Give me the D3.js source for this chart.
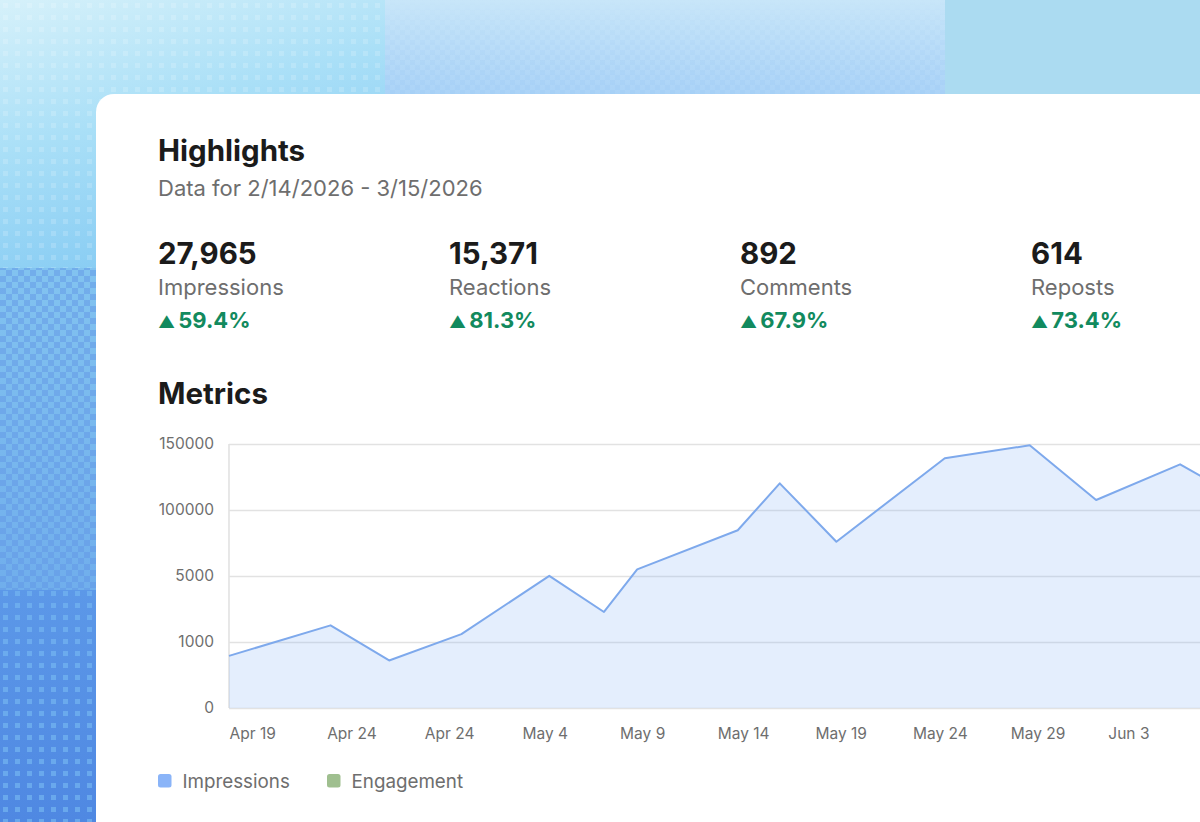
<!DOCTYPE html>
<html>
<head>
<meta charset="utf-8">
<script src="https://cdn.jsdelivr.net/npm/d3@7"></script>
<style>
  html, body { margin: 0; padding: 0; overflow: hidden; background: #fff; }
  svg { display: block; font-family: Inter, "Noto Sans", sans-serif; }
</style>
</head>
<body>
<div class="chart"></div>
<script>
// highlight numbers
const kpiValues = ["27,965", "15,371", "892", "614"]
const kpiLabels = ["Impressions", "Reactions", "Comments", "Reposts"]
const kpiChanges = ["59.4%", "81.3%", "67.9%", "73.4%"]

// metrics series (day offset from Apr 19, impressions)
const days = [0, 5.2, 8.2, 11.9, 16.4, 19.2, 20.9, 26.05, 28.2, 31.1, 36.65, 41.0, 44.4, 48.7, 51.9]
const impressions = [790, 2010, 720, 1480, 5200, 2820, 14600, 70800, 120200, 54400, 139200, 149000, 107600, 134600, 107600]

const xLabels = ["Apr 19", "Apr 24", "Apr 24", "May 4", "May 9", "May 14", "May 19", "May 24", "May 29", "Jun 3"]
const yTicks = [0, 1000, 5000, 100000, 150000]

const legendNames = ["Impressions", "Engagement"]
const legendColors = ["#8ab4f8", "#9fbf8f"]

const W = 1200, H = 822

const svg = d3.select(".chart").append("svg")
    .attr("width", W)
    .attr("height", H)

const defs = svg.append("defs")

function grad(id, stops, x2, y2) {
    const g = defs.append("linearGradient").attr("id", id)
        .attr("x1", 0).attr("y1", 0).attr("x2", x2).attr("y2", y2)
    stops.forEach(s => g.append("stop").attr("offset", s[0]).attr("stop-color", s[1]))
    return g
}
grad("gTopLeft", [[0, "#d6f1fa"], [0.5, "#a9dff7"], [1, "#86cbf3"]], 0.4, 1)
grad("gTopMid", [[0, "#c8e6f9"], [1, "#abd3f7"]], 0, 1)
grad("gMid", [[0, "#82c3f0"], [1, "#70aeec"]], 0, 1)
grad("gLow", [[0, "#5c98e8"], [1, "#4f88e2"]], 0, 1)
grad("gFade", [[0, "#000"], [1, "#fff"]], 0, 1)

defs.append("mask").attr("id", "mFade")
    .attr("maskContentUnits", "userSpaceOnUse")
  .append("rect")
    .attr("x", 385).attr("y", 0).attr("width", 580).attr("height", 94)
    .attr("fill", "url(#gFade)")

// dot pattern
const dots = defs.append("pattern").attr("id", "pDots")
    .attr("width", 12).attr("height", 12).attr("patternUnits", "userSpaceOnUse")
dots.append("rect").attr("x", 3).attr("y", 3).attr("width", 5).attr("height", 5)
    .attr("fill", "#ffffff").attr("opacity", 0.16)

const dotsLow = defs.append("pattern").attr("id", "pDotsLow")
    .attr("width", 12).attr("height", 12).attr("patternUnits", "userSpaceOnUse")
dotsLow.append("rect").attr("x", 3).attr("y", 3).attr("width", 5).attr("height", 5)
    .attr("fill", "#74b6f2").attr("opacity", 0.7)

// checker pattern
const checker = defs.append("pattern").attr("id", "pCheck")
    .attr("width", 12).attr("height", 12).attr("patternUnits", "userSpaceOnUse")
checker.append("rect").attr("x", 0).attr("y", 0).attr("width", 6).attr("height", 6)
    .attr("fill", "#5f92e4").attr("opacity", 0.45)
checker.append("rect").attr("x", 6).attr("y", 6).attr("width", 6).attr("height", 6)
    .attr("fill", "#5f92e4").attr("opacity", 0.45)

const checkLight = defs.append("pattern").attr("id", "pCheckLight")
    .attr("width", 10).attr("height", 10).attr("patternUnits", "userSpaceOnUse")
checkLight.append("rect").attr("width", 5).attr("height", 5)
    .attr("fill", "#9ccaf5").attr("opacity", 0.3)
checkLight.append("rect").attr("x", 5).attr("y", 5).attr("width", 5).attr("height", 5)
    .attr("fill", "#9ccaf5").attr("opacity", 0.3)

// background blocks
const bg = svg.append("g")
bg.append("rect").attr("width", W).attr("height", H).attr("fill", "#abdbf1")
bg.append("rect").attr("x", 0).attr("y", 0).attr("width", 385).attr("height", 268).attr("fill", "url(#gTopLeft)")
bg.append("rect").attr("x", 0).attr("y", 0).attr("width", 385).attr("height", 268).attr("fill", "url(#pDots)")
bg.append("rect").attr("x", 385).attr("y", 0).attr("width", 560).attr("height", 94).attr("fill", "url(#gTopMid)")
bg.append("rect").attr("x", 385).attr("y", 0).attr("width", 560).attr("height", 94)
    .attr("fill", "url(#pCheckLight)").attr("mask", "url(#mFade)")
bg.append("rect").attr("x", 0).attr("y", 268).attr("width", 96).attr("height", 322).attr("fill", "url(#gMid)")
bg.append("rect").attr("x", 0).attr("y", 268).attr("width", 96).attr("height", 322).attr("fill", "url(#pCheck)")
bg.append("rect").attr("x", 0).attr("y", 590).attr("width", 96).attr("height", 232).attr("fill", "url(#gLow)")
bg.append("rect").attr("x", 0).attr("y", 590).attr("width", 96).attr("height", 232).attr("fill", "url(#pDotsLow)")

// card
svg.append("rect")
    .attr("x", 96).attr("y", 94)
    .attr("width", W).attr("height", H)
    .attr("rx", 18)
    .attr("fill", "#ffffff")

const left = 158
const ink = "#1b1b1b", grey = "#6e6e6e", green = "#128a5e"

svg.append("text").attr("x", left).attr("y", 161)
    .text("Highlights")
    .attr("font-size", 29.5).attr("font-weight", 700).attr("fill", ink)

svg.append("text").attr("x", left).attr("y", 195.5)
    .text("Data for 2/14/2026 - 3/15/2026")
    .attr("font-size", 22).attr("fill", grey)

const colX = d3.scalePoint().domain(d3.range(kpiValues.length)).range([left, left + 291 * 3])

const kpi = svg.selectAll(".kpi")
    .data(kpiValues)
    .join("g")
    .attr("class", "kpi")
    .attr("transform", (d, i) => `translate(${colX(i)},0)`)

kpi.append("text").attr("y", 264)
    .text(d => d)
    .attr("font-size", 29.5).attr("font-weight", 700).attr("fill", ink)

kpi.append("text").attr("y", 295)
    .text((d, i) => kpiLabels[i])
    .attr("font-size", 22).attr("fill", grey)

const change = kpi.append("text").attr("y", 328)
    .attr("fill", green).attr("font-weight", 700)
change.append("tspan").attr("font-size", 16.5).text("▲")
change.append("tspan").attr("dx", 3).attr("font-size", 22).text((d, i) => kpiChanges[i])

svg.append("text").attr("x", left).attr("y", 404)
    .text("Metrics")
    .attr("font-size", 29.5).attr("font-weight", 700).attr("fill", ink)

// chart
const plotLeft = 229, plotTop = 444, plotBottom = 708
const dayPx = 19.53

const x = d3.scaleLinear()
    .domain([0, 55])
    .range([plotLeft, plotLeft + 55 * dayPx])

const yStep = (plotBottom - plotTop) / (yTicks.length - 1)
const y = d3.scaleLinear()
    .domain(yTicks)
    .range(yTicks.map((d, i) => plotBottom - i * yStep))

const yGroup = svg.append("g")
    .attr("transform", `translate(${plotLeft},0)`)
    .call(d3.axisLeft(y).tickValues(yTicks).tickSize(0).tickPadding(15).tickFormat(d => String(d)))

yGroup.call(g => g.select(".domain").remove())
    .call(g => g.selectAll(".tick line").clone()
        .attr("x2", W)
        .attr("stroke", "#e2e2e2")
        .attr("stroke-width", 1.6))
    .call(g => g.selectAll(".tick text")
        .attr("font-size", 15.5)
        .attr("font-family", "Inter, sans-serif")
        .attr("fill", grey))

// left border
svg.append("line")
    .attr("x1", plotLeft).attr("x2", plotLeft)
    .attr("y1", plotTop).attr("y2", plotBottom)
    .attr("stroke", "#e2e2e2").attr("stroke-width", 1.6)

const area = d3.area()
    .x((d, i) => x(days[i]))
    .y0(y(0))
    .y1(d => y(d))

const line = d3.line()
    .x((d, i) => x(days[i]))
    .y(d => y(d))

svg.append("path")
    .datum(impressions)
    .attr("d", area)
    .attr("fill", "#8ab4f8")
    .attr("fill-opacity", 0.23)

svg.append("path")
    .datum(impressions)
    .attr("d", line)
    .attr("fill", "none")
    .attr("stroke", "#7ea9ec")
    .attr("stroke-width", 2)
    .attr("stroke-linejoin", "round")

const xGroup = svg.append("g")
    .attr("transform", `translate(0,${plotBottom})`)
    .call(d3.axisBottom(x)
        .tickValues(xLabels.map((d, i) => i * 5))
        .tickSize(0)
        .tickPadding(20)
        .tickFormat((d, i) => xLabels[i]))

xGroup.call(g => g.select(".domain").remove())
    .call(g => g.selectAll(".tick text")
        .attr("text-anchor", "start")
        .attr("font-size", 15.5)
        .attr("font-family", "Inter, sans-serif")
        .attr("fill", grey))

// legend
const legend = svg.selectAll(".legend")
    .data(legendNames)
    .join("g")
    .attr("class", "legend")
    .attr("transform", (d, i) => `translate(${left + i * 169},774)`)

legend.append("rect")
    .attr("width", 13.5).attr("height", 13.5).attr("rx", 2.5)
    .attr("fill", (d, i) => legendColors[i])

legend.append("text")
    .attr("x", 24.5).attr("y", 13.5)
    .text(d => d)
    .attr("font-size", 18.8).attr("fill", grey)
</script>
</body>
</html>
